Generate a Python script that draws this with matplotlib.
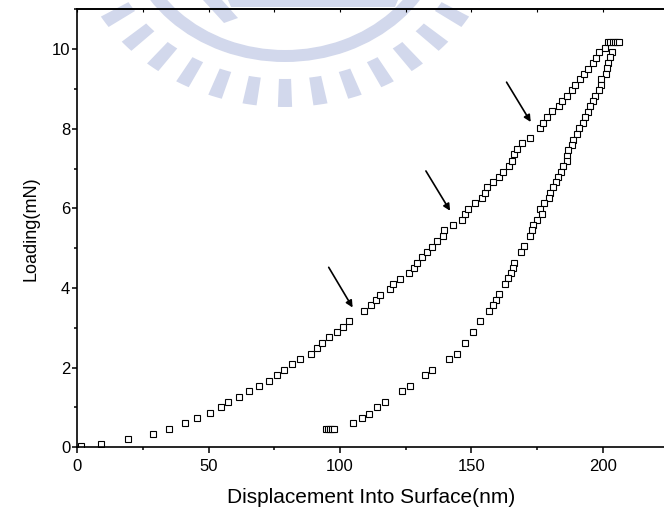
import numpy as np
import matplotlib.pyplot as plt
from matplotlib.patches import Wedge, Polygon
from matplotlib.transforms import Affine2D
from matplotlib.ticker import MultipleLocator

plt.rcParams['font.family'] = ['Liberation Sans', 'DejaVu Sans']

# loading branch (nm, mN)
load_x = [1.3, 9.1, 19.4, 28.7, 35.0, 40.9, 45.4, 50.4, 54.8, 57.5, 61.6, 65.5, 69.3,
          72.8, 75.9, 78.8, 81.6, 84.7, 88.8, 91.2, 93.3, 95.8, 98.9, 101.3, 103.5,
          109.1, 111.7, 113.7, 115.3, 118.9, 120.1, 122.7, 126.3, 128.2, 129.5, 131.3,
          133.2, 135.1, 137.0, 139.2, 139.7, 143.0,
          146.3, 147.7, 148.9, 151.4, 154.2, 155.3, 156.0, 158.4, 160.6, 162.0, 164.2,
          165.5, 166.2, 167.5, 169.4, 172.3,
          176.1, 177.4, 178.8, 180.7, 183.3, 184.5, 186.3, 188.3, 189.6, 191.5, 192.8,
          194.4, 196.2, 197.3, 198.6, 200.9, 202.1]
load_y = [0.03, 0.08, 0.20, 0.34, 0.47, 0.60, 0.74, 0.87, 1.01, 1.14, 1.27, 1.41, 1.54,
          1.67, 1.82, 1.95, 2.08, 2.22, 2.35, 2.49, 2.62, 2.76, 2.89, 3.02, 3.16,
          3.43, 3.57, 3.70, 3.83, 3.97, 4.10, 4.23, 4.37, 4.50, 4.64, 4.77,
          4.90, 5.04, 5.18, 5.31, 5.45, 5.59,
          5.72, 5.85, 5.99, 6.13, 6.25, 6.39, 6.53, 6.66, 6.79, 6.92, 7.06,
          7.20, 7.36, 7.50, 7.63, 7.77,
          8.01, 8.15, 8.29, 8.44, 8.56, 8.69, 8.83, 8.97, 9.10, 9.24, 9.38,
          9.51, 9.64, 9.78, 9.92, 10.04, 10.18]

# hold at max load
hold_x = [202.9, 203.8, 204.7, 205.6, 206.3]
hold_y = [10.18, 10.18, 10.18, 10.18, 10.18]

# unloading branch
unload_x = [203.4, 202.8, 202.1, 201.5, 201.3, 199.5, 199.2, 198.7, 197.2, 196.4,
            195.2, 194.3, 193.1, 192.4, 191.1, 190.1, 188.6, 188.2, 186.8, 186.5,
            186.3, 185.0, 184.2, 183.0, 182.1, 181.2, 179.9, 179.4, 177.7, 176.1,
            176.9, 175.1, 173.4, 173.0, 172.3, 170.0, 168.9, 166.4, 165.7, 165.1,
            164.1, 162.9, 160.5, 159.4, 158.4, 156.7, 153.3, 150.5, 147.6, 144.4,
            141.4, 135.1, 132.4, 126.6, 123.5, 117.0, 114.2, 111.0, 108.5, 105.1]
unload_y = [9.93, 9.79, 9.64, 9.52, 9.37, 9.24, 9.10, 8.97, 8.82, 8.69,
            8.56, 8.42, 8.29, 8.15, 8.01, 7.87, 7.73, 7.59, 7.46, 7.31,
            7.18, 7.06, 6.92, 6.79, 6.67, 6.54, 6.39, 6.26, 6.13, 5.99,
            5.86, 5.72, 5.59, 5.46, 5.31, 5.05, 4.91, 4.64, 4.51, 4.38,
            4.24, 4.10, 3.84, 3.70, 3.57, 3.43, 3.16, 2.89, 2.62, 2.35,
            2.22, 1.95, 1.82, 1.55, 1.41, 1.14, 1.00, 0.84, 0.73, 0.60]

# hold at the end of unloading
end_x = [94.6, 95.4, 96.2, 97.0, 97.6]
end_y = [0.46, 0.46, 0.46, 0.46, 0.46]

# pop-in arrows (tail -> head)
arrow_tail = [(95.7, 4.52), (132.7, 6.94), (163.4, 9.17)]
arrow_head = [(104.8, 3.51), (141.9, 5.94), (172.6, 8.17)]

W, H = 664, 517
fig = plt.figure(figsize=(W / 100, H / 100), dpi=100)
ax = fig.add_axes([77.3 / W, 1 - 447.3 / H, 1 - 77.3 / W, (447.3 - 9.3) / H])
ax.set_facecolor('none')

# faint logo watermark behind the plot
pix = Affine2D().scale(1 / W, -1 / H).translate(0, 1) + fig.transFigure
logo = Affine2D().scale(1.15, 1).translate(285, -80) + pix
wm = '#d2d8ec'
fig.add_artist(Wedge((0, 0), 142, 0, 360, width=12, transform=logo, color=wm, lw=0, zorder=-5))
for k in range(-19, 20):
    a = 90 + 9.5 * k
    fig.add_artist(Wedge((0, 0), 187, a - 1.9, a + 1.9, width=28, transform=logo,
                         color=wm, lw=0, zorder=-5))
fig.add_artist(Polygon([(228, 0), (398, 0), (395, 7), (231, 7)], transform=pix,
                       color=wm, lw=0, zorder=-5))
fig.add_artist(Polygon([(203, 0), (222, 0), (238, 18), (224, 23)], transform=pix,
                       color=wm, lw=0, zorder=-5))

style = dict(marker='s', linestyle='', markersize=5, markerfacecolor='white',
             markeredgecolor='black', markeredgewidth=0.8)
ax.plot(load_x, load_y, **style)
ax.plot(hold_x, hold_y, **style)
ax.plot(unload_x, unload_y, **style)
ax.plot(end_x, end_y, **style)

for t, h in zip(arrow_tail, arrow_head):
    ax.annotate('', xy=h, xytext=t,
                arrowprops=dict(arrowstyle='-|>', color='black', lw=1.2,
                                mutation_scale=10, shrinkA=0, shrinkB=0))

ax.set_xlim(0, (W - 77.3) / 2.627)
ax.set_ylim(0, 11)
ax.set_xticks([0, 50, 100, 150, 200])
ax.set_yticks([0, 2, 4, 6, 8, 10])
ax.xaxis.set_minor_locator(MultipleLocator(25))
ax.yaxis.set_minor_locator(MultipleLocator(1))
ax.tick_params(which='major', direction='out', length=3.5, width=1.1, labelsize=12, pad=1.5)
ax.tick_params(which='minor', direction='out', length=2.5, width=1.1)
ax.tick_params(axis='x', which='major', length=4.5, pad=4)
ax.spines['right'].set_visible(False)
for s in ['left', 'bottom', 'top']:
    ax.spines[s].set_linewidth(1.2)

top = ax.secondary_xaxis('top')
top.set_xticks([0, 50, 100, 150, 200])
top.xaxis.set_minor_locator(MultipleLocator(25))
top.tick_params(which='both', direction='in', length=2, width=0.8, labeltop=False)
top.spines['top'].set_linewidth(1.2)

ax.set_xlabel('Displacement Into Surface(nm)', fontsize=15, labelpad=10)
ax.set_ylabel('Loading(mN)', fontsize=13, labelpad=9)

fig.savefig('out.png', dpi=100)
